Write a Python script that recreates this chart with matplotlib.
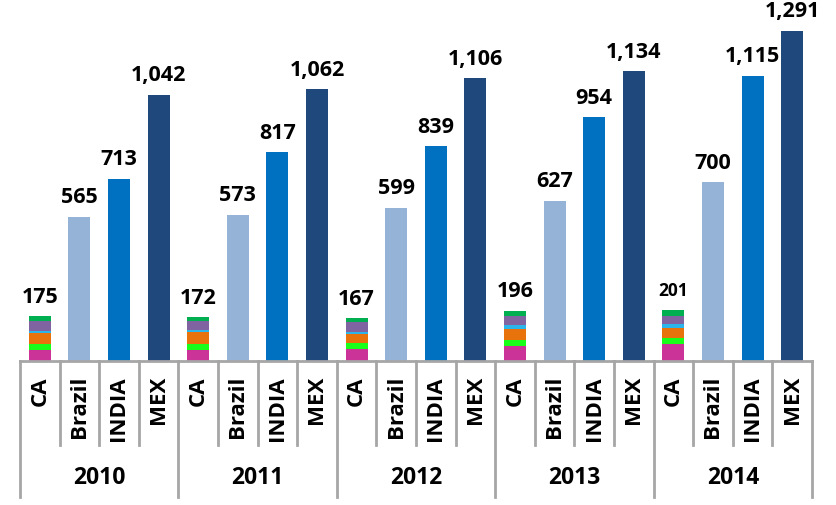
import matplotlib
matplotlib.use("Agg")
import matplotlib.pyplot as plt
import matplotlib.transforms as mtransforms
import numpy as np

years = ["2010", "2011", "2012", "2013", "2014"]
categories = ["CA", "Brazil", "INDIA", "MEX"]

ca_totals = [175, 172, 167, 196, 201]
brazil = [565, 573, 599, 627, 700]
india = [713, 817, 839, 954, 1115]
mex = [1042, 1062, 1106, 1134, 1291]

# CA stacked segments (bottom to top)
ca_seg1 = [44, 44, 48, 58, 67]   # magenta
ca_seg2 = [22, 21, 21, 24, 24]   # bright green
ca_seg3 = [44, 48, 37, 45, 37]   # orange
ca_seg4 = [9, 8, 8, 12, 16]      # light blue
ca_seg5 = [39, 34, 37, 37, 33]   # purple
ca_seg6 = [17, 17, 16, 20, 24]   # dark green

seg_colors = ["#cc3399", "#19ff19", "#e8730c", "#2bb5ea", "#8064a2", "#00b050"]
cat_colors = {"Brazil": "#95b3d7", "INDIA": "#0070c0", "MEX": "#1f497d"}

plt.rcParams['font.family'] = ['Open Sans', 'DejaVu Sans']

fig = plt.figure(figsize=(8.36, 5.05), dpi=100)
W, H = 836, 505
x0, x1, ybase = 20, 812, 361
ax = fig.add_axes([x0 / W, (H - ybase) / H, (x1 - x0) / W, ybase / H])
ax.set_xlim(-0.5, 19.5)
ax.set_ylim(0, 1412)
ax.axis('off')

bw = 0.56
segs = [ca_seg1, ca_seg2, ca_seg3, ca_seg4, ca_seg5, ca_seg6]
for yi in range(len(years)):
    base = yi * 4
    bottom = 0
    for s, c in zip(segs, seg_colors):
        ax.bar(base, s[yi], width=bw, bottom=bottom, color=c, linewidth=0)
        bottom += s[yi]
    vals = [ca_totals[yi], brazil[yi], india[yi], mex[yi]]
    for ci, cat in enumerate(categories[1:], start=1):
        ax.bar(base + ci, vals[ci], width=bw, color=cat_colors[cat], linewidth=0)
    for ci, v in enumerate(vals):
        fs = 12.5 if (yi == 4 and ci == 0) else 15.5
        ax.annotate(f"{v:,}", (base + ci, v), xytext=(0, 19), textcoords='offset pixels',
                    ha='center', va='center', fontsize=fs, fontweight='bold',
                    color='black', annotation_clip=False)

trans = mtransforms.blended_transform_factory(ax.transData, ax.transAxes)
gray = "#a6a6a6"
ax.plot([-0.5, 19.5], [0, 0], color=gray, lw=2, transform=trans, clip_on=False)
for k in range(21):
    ylow = -(497 - ybase) / ybase if k % 4 == 0 else -(445 - ybase) / ybase
    ax.plot([k - 0.5, k - 0.5], [0, ylow], color=gray, lw=2, transform=trans, clip_on=False)

for yi, yr in enumerate(years):
    for ci, cat in enumerate(categories):
        ax.text(yi * 4 + ci, -(376 - ybase) / ybase, cat, rotation=90, ha='center', va='top',
                fontsize=16, fontweight='bold', transform=trans)
    ax.text(yi * 4 + 1.5, -(478 - ybase) / ybase, yr, ha='center', va='center',
            fontsize=16.5, fontweight='bold', transform=trans)

fig.savefig("out.png", dpi=100)
